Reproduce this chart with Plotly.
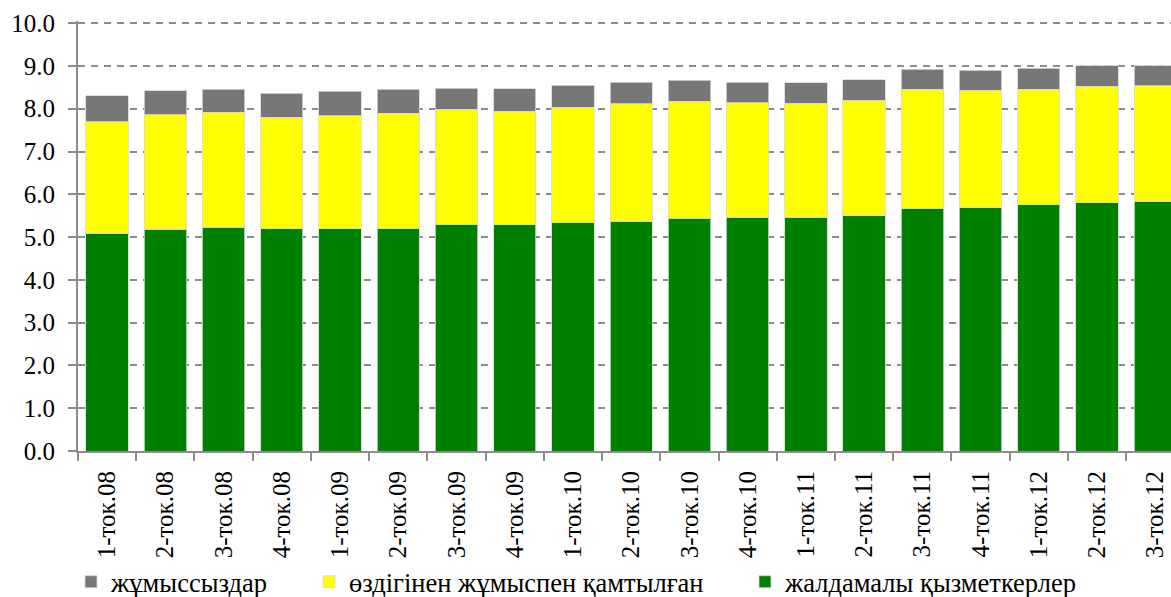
import plotly.graph_objects as go

categories = ["1-ток.08", "2-ток.08", "3-ток.08", "4-ток.08",
              "1-ток.09", "2-ток.09", "3-ток.09", "4-ток.09",
              "1-ток.10", "2-ток.10", "3-ток.10", "4-ток.10",
              "1-ток.11", "2-ток.11", "3-ток.11", "4-ток.11",
              "1-ток.12", "2-ток.12", "3-ток.12"]

# жалдамалы қызметкерлер (hired employees), млн
hired = [5.09, 5.18, 5.23, 5.19, 5.19, 5.19, 5.30, 5.29, 5.34, 5.37,
         5.44, 5.46, 5.46, 5.50, 5.67, 5.69, 5.75, 5.80, 5.84]
# өздігінен жұмыспен қамтылған (self-employed)
self_employed = [2.61, 2.68, 2.69, 2.61, 2.64, 2.70, 2.69, 2.65, 2.69, 2.75,
                 2.73, 2.68, 2.67, 2.70, 2.78, 2.74, 2.71, 2.73, 2.70]
# жұмыссыздар (unemployed)
unemployed = [0.60, 0.56, 0.54, 0.56, 0.58, 0.56, 0.49, 0.53, 0.52, 0.50,
              0.49, 0.48, 0.48, 0.48, 0.47, 0.47, 0.49, 0.48, 0.47]

series_names = ["жұмыссыздар", "өздігінен жұмыспен қамтылған", "жалдамалы қызметкерлер"]
colors = {"hired": "#008000", "self": "#FFFF00", "unemp": "#777777"}

FONT = "Liberation Serif, DejaVu Serif, serif"
edge = dict(color="rgba(215,215,215,1)", width=0.8)

W, H = 1171, 597
ML, MR, MT, MB = 78, 0, 21, 146
PW = W - ML - MR
PH = H - MT - MB

fig = go.Figure()
fig.add_trace(go.Bar(x=categories, y=hired, name=series_names[2],
                     marker=dict(color=colors["hired"], line=edge),
                     legendrank=3, legendwidth=300))
fig.add_trace(go.Bar(x=categories, y=self_employed, name=series_names[1],
                     marker=dict(color=colors["self"], line=edge),
                     legendrank=2, legendwidth=391))
fig.add_trace(go.Bar(x=categories, y=unemployed, name=series_names[0],
                     marker=dict(color=colors["unemp"], line=edge),
                     legendrank=1, legendwidth=193))

fig.update_layout(
    width=W, height=H,
    barmode="stack", bargap=0.273,
    margin=dict(l=ML, r=MR, t=MT, b=MB, pad=0, autoexpand=False),
    plot_bgcolor="white", paper_bgcolor="white",
    font=dict(family=FONT, size=25, color="black"),
    showlegend=True,
    legend=dict(orientation="h", x=-7 / PW, xanchor="left",
                y=(H - MB - 582) / PH, yanchor="middle", traceorder="normal",
                font=dict(family=FONT, size=26.5, color="black"),
                bgcolor="rgba(0,0,0,0)"),
)

fig.update_xaxes(
    range=[-0.5, 18.27], type="category",
    showline=True, linecolor="#8c8c8c", linewidth=2,
    ticks="outside", tickson="boundaries", ticklen=8, tickcolor="#8c8c8c", tickwidth=2,
    tickangle=-90, showgrid=False, automargin=False, ticklabelstandoff=8,
    tickfont=dict(family=FONT, size=25, color="black"),
)
fig.update_yaxes(
    range=[0, 10.05], tickvals=[0, 1, 2, 3, 4, 5, 6, 7, 8, 9, 10], tickformat=".1f",
    showline=True, linecolor="#8c8c8c", linewidth=2,
    ticks="outside", ticklen=8, tickcolor="#8c8c8c", tickwidth=2,
    showgrid=True, gridcolor="#8c8c8c", gridwidth=2, griddash="7px,6px",
    zeroline=False, automargin=False, ticklabelstandoff=8,
    tickfont=dict(family=FONT, size=25, color="black"),
)

fig.write_html("out.html", config={"displayModeBar": False},
               post_script="document.body.style.margin='0px';")
